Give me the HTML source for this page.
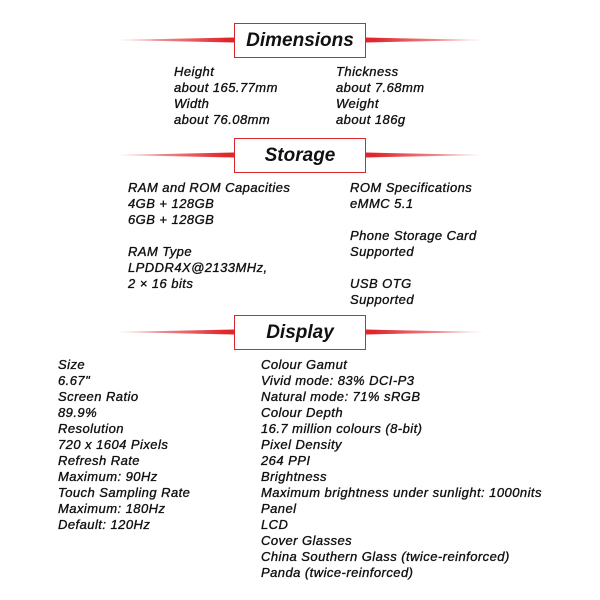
<!DOCTYPE html>
<html><head><style>
body{margin:0;width:600px;height:600px;background:#fff;position:relative;font-family:"Liberation Sans",sans-serif;color:#111;overflow:hidden}
.bx{position:absolute;left:234px;width:130px;height:33px;border:1.5px solid #d9262b;background:#fff;text-align:center;font-weight:bold;font-style:italic;font-size:19px;line-height:33px;color:#111}
.t{position:absolute;font-style:italic;font-size:13px;line-height:16px;white-space:pre;letter-spacing:0.45px;-webkit-text-stroke:0.35px #111}
</style></head><body>
<svg width="600" height="600" style="position:absolute;left:0;top:0">
<defs><linearGradient id="g" x1="0" x2="1"><stop offset="0" stop-color="#e0262b" stop-opacity="0.2"/><stop offset="0.3" stop-color="#e0262b"/><stop offset="0.7" stop-color="#e0262b"/><stop offset="1" stop-color="#e0262b" stop-opacity="0.2"/></linearGradient></defs>
<polygon points="115,40 234,37.5 366,37.5 485,40 366,42.5 234,42.5" fill="url(#g)"/>
<polygon points="115,155 234,152.5 366,152.5 485,155 366,157.5 234,157.5" fill="url(#g)"/>
<polygon points="115,332 234,329.5 366,329.5 485,332 366,334.5 234,334.5" fill="url(#g)"/>
</svg>
<div class="bx" style="top:23px">Dimensions</div>
<div class="bx" style="top:138px">Storage</div>
<div class="bx" style="top:315px">Display</div>
<div class="t" style="left:174px;top:64px">Height
about 165.77mm
Width
about 76.08mm</div>
<div class="t" style="left:336px;top:64px">Thickness
about 7.68mm
Weight
about 186g</div>
<div class="t" style="left:128px;top:180px">RAM and ROM Capacities
4GB + 128GB
6GB + 128GB

RAM Type
LPDDR4X@2133MHz,
2 × 16 bits</div>
<div class="t" style="left:350px;top:180px">ROM Specifications
eMMC 5.1

Phone Storage Card
Supported

USB OTG
Supported</div>
<div class="t" style="left:58px;top:357px">Size
6.67"
Screen Ratio
89.9%
Resolution
720 x 1604 Pixels
Refresh Rate
Maximum: 90Hz
Touch Sampling Rate
Maximum: 180Hz
Default: 120Hz</div>
<div class="t" style="left:261px;top:357px">Colour Gamut
Vivid mode: 83% DCI-P3
Natural mode: 71% sRGB
Colour Depth
16.7 million colours (8-bit)
Pixel Density
264 PPI
Brightness
Maximum brightness under sunlight: 1000nits
Panel
LCD
Cover Glasses
China Southern Glass (twice-reinforced)
Panda (twice-reinforced)</div>
</body></html>
